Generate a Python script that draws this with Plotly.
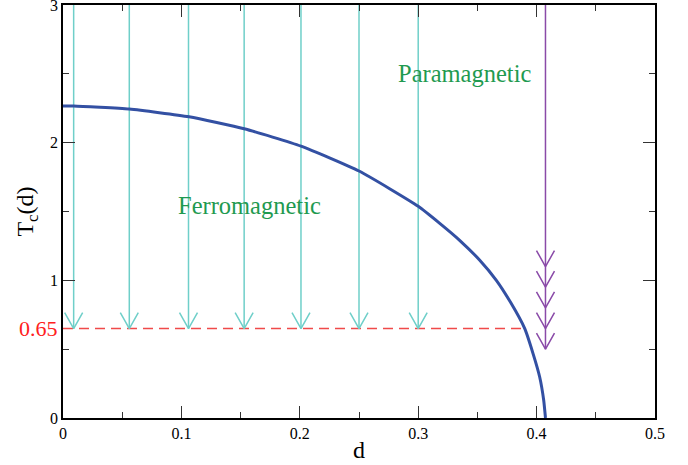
import plotly.graph_objects as go

# Critical line Tc(d)
d_curve = [0, 0.009, 0.056, 0.1065, 0.153, 0.201, 0.25, 0.30, 0.3182, 0.335, 0.352,
           0.366, 0.378, 0.390, 0.397, 0.4026, 0.406, 0.4075]
T_curve = [2.266, 2.266, 2.244, 2.188, 2.101, 1.975, 1.794, 1.538, 1.414, 1.291, 1.146,
           1.0, 0.84, 0.649, 0.468, 0.298, 0.129, 0.0]

# Quench arrows (cyan): from T_start down to T_quench
cyan_d = [0.009, 0.056, 0.106, 0.153, 0.201, 0.25, 0.30]
T_start = 3.0
T_quench = 0.65
d_quench_end = 0.390

# Purple arrow at d_c with several heads
purple_d = 0.4075
purple_tips = [1.1, 0.95, 0.8, 0.65, 0.5]

x_ticks = [0, 0.1, 0.2, 0.3, 0.4, 0.5]
x_ticklabels = ["0", "0.1", "0.2", "0.3", "0.4", "0.5"]
y_ticks = [0, 1, 2, 3]
y_ticklabels = ["0", "1", "2", "3"]

CYAN = "#6fcfc9"
BLUE = "#3350a3"
PURPLE = "#8a4aa8"
RED = "#f04a4a"
GREEN = "#1f9a50"
FONT = "Liberation Serif"

# arrowhead size in data units (from px: half width 9px, height 16px)
HW = 9 / 1184
HH = 16 / 137.67


def heads(xs, ys):
    px, py = [], []
    for x, y in zip(xs, ys):
        px += [x - HW, x, x + HW, None]
        py += [y + HH, y, y + HH, None]
    return px, py


fig = go.Figure()

# red dashed line
fig.add_trace(go.Scatter(x=[0, d_quench_end], y=[T_quench, T_quench], mode="lines",
                         line=dict(color=RED, width=1.5, dash="10px,6px"),
                         hoverinfo="skip", showlegend=False))

# cyan arrows
sx, sy = [], []
for x in cyan_d:
    sx += [x, x, None]
    sy += [T_start, T_quench, None]
fig.add_trace(go.Scatter(x=sx, y=sy, mode="lines", line=dict(color=CYAN, width=1.5),
                         hoverinfo="skip", showlegend=False))
hx, hy = heads(cyan_d, [T_quench] * len(cyan_d))
fig.add_trace(go.Scatter(x=hx, y=hy, mode="lines", line=dict(color=CYAN, width=1.5),
                         hoverinfo="skip", showlegend=False))

# purple arrow
fig.add_trace(go.Scatter(x=[purple_d, purple_d], y=[T_start, min(purple_tips)], mode="lines",
                         line=dict(color=PURPLE, width=1.5), hoverinfo="skip", showlegend=False))
hx, hy = heads([purple_d] * len(purple_tips), purple_tips)
fig.add_trace(go.Scatter(x=hx, y=hy, mode="lines", line=dict(color=PURPLE, width=1.5),
                         hoverinfo="skip", showlegend=False))

# critical curve
fig.add_trace(go.Scatter(x=d_curve, y=T_curve, mode="lines",
                         line=dict(color=BLUE, width=3, shape="spline", smoothing=0.5),
                         hoverinfo="skip", showlegend=False))

fig.add_annotation(x=0.1577, y=1.545, text="Ferromagnetic", showarrow=False,
                   font=dict(family=FONT, size=24.5, color=GREEN))
fig.add_annotation(x=0.339, y=2.504, text="Paramagnetic", showarrow=False,
                   font=dict(family=FONT, size=24.5, color=GREEN))
fig.add_annotation(x=0, y=T_quench, xref="paper", yref="y", text="0.65", showarrow=False,
                   xanchor="right", xshift=-3, font=dict(family=FONT, size=22, color="#ff2020"))

TICKFONT = dict(family=FONT, size=16, color="black")

fig.update_layout(
    width=688, height=465,
    margin=dict(l=63, r=33, t=5, b=47),
    paper_bgcolor="white", plot_bgcolor="white",
    font=dict(family=FONT, size=16, color="black"),
    xaxis=dict(range=[0, 0.5], tickvals=x_ticks, ticktext=x_ticklabels, automargin=False,
               tickfont=TICKFONT,
               ticks="inside", ticklen=12, tickwidth=1, tickcolor="#333",
               minor=dict(dtick=0.05, ticks="inside", ticklen=6, tickcolor="#333"),
               showline=True, linecolor="black", linewidth=1.5, mirror="ticks",
               showgrid=False, zeroline=False, ticklabeloverflow="allow",
               title=dict(text="d", font=dict(family=FONT, size=24), standoff=0)),
    yaxis=dict(range=[0, 3], tickvals=y_ticks, ticktext=y_ticklabels, automargin=False,
               tickfont=TICKFONT,
               ticks="inside", ticklen=12, tickwidth=1, tickcolor="#333",
               minor=dict(dtick=0.5, ticks="inside", ticklen=6, tickcolor="#333"),
               showline=True, linecolor="black", linewidth=1.5, mirror="ticks",
               showgrid=False, zeroline=False, ticklabeloverflow="allow",
               title=dict(text="T<sub>c</sub>(d)", font=dict(family=FONT, size=24), standoff=10)),
)

fig.write_html("out.html", config={"displayModeBar": False},
               post_script="document.body.style.margin='0';")
